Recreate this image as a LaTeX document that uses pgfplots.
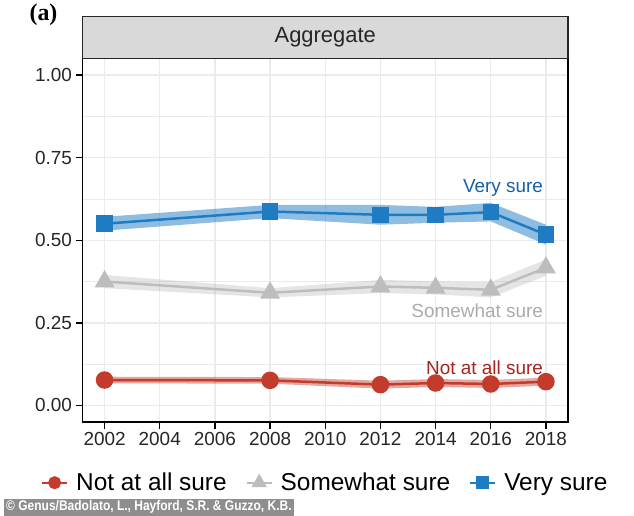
\documentclass[border=0pt]{standalone}
\usepackage{fontspec}
\setmainfont{Liberation Sans}
\newfontfamily\serifbold{Liberation Serif}
\usepackage{pgfplots}
\usepackage{pgfplotstable}
\pgfplotsset{compat=1.18}
\usepgfplotslibrary{fillbetween}
\definecolor{redc}{HTML}{C33B2C}
\definecolor{redl}{HTML}{A8231C}
\definecolor{bluec}{HTML}{1F7CC3}
\definecolor{bluel}{HTML}{1660A6}
\definecolor{grayc}{HTML}{BDBDBD}
\definecolor{grayl}{HTML}{ABABAB}
\definecolor{gridc}{HTML}{EBEBEB}
\definecolor{stripc}{HTML}{D9D9D9}
\definecolor{textc}{HTML}{262626}
\definecolor{copyc}{HTML}{8E8E8E}

\pgfplotstableread{
year not notlo nothi some somelo somehi very verylo veryhi
2002 0.077 0.067 0.087 0.375 0.355 0.395 0.550 0.529 0.571
2008 0.076 0.066 0.086 0.341 0.327 0.355 0.587 0.567 0.607
2012 0.063 0.051 0.075 0.360 0.340 0.380 0.577 0.547 0.607
2014 0.068 0.056 0.080 0.356 0.336 0.376 0.577 0.553 0.601
2016 0.065 0.053 0.077 0.350 0.327 0.373 0.585 0.557 0.613
2018 0.072 0.060 0.084 0.417 0.392 0.442 0.517 0.487 0.547
}\data

\begin{document}
\begin{tikzpicture}
\path (0,0) rectangle (634bp,516bp);
\begin{axis}[
  at={(82.5bp,94bp)}, anchor=south west,
  scale only axis, width=485.5bp, height=363.5bp,
  xmin=2001.2, xmax=2018.8, ymin=-0.05, ymax=1.05,
  xtick={2002,2004,...,2018},
  ytick={0,0.25,0.5,0.75,1},
  minor ytick={0.125,0.375,0.625,0.875},
  grid=both,
  major grid style={gridc, line width=1.4bp},
  minor grid style={gridc, line width=0.8bp},
  axis line style={black, line width=1.4bp},
  tick align=outside, major tick length=7bp, minor tick length=0pt,
  tick style={black, line width=1.4bp},
  xtick pos=lower, ytick pos=left,
  /pgf/number format/assume math mode=true,
  ticklabel style={font=\fontsize{19}{22}\selectfont, text=textc},
  xticklabel style={/pgf/number format/1000 sep={}},
  yticklabel style={/pgf/number format/.cd, fixed, fixed zerofill, precision=2},
  legend style={at={(0.5,-0.167)}, anchor=center, draw=none, fill=none,
    font=\fontsize{24.5}{28}\selectfont, legend columns=3,
    /tikz/every odd column/.append style={column sep=6bp},
    /tikz/every even column/.append style={column sep=17bp}},
  legend image code/.code={\draw[#1, mark repeat=2, mark phase=2] plot coordinates {(0bp,0bp) (12.5bp,0bp) (25bp,0bp)};},
]
% ribbons
\addplot[name path=nlo, draw=none, forget plot] table[x=year,y=notlo]{\data};
\addplot[name path=nhi, draw=none, forget plot] table[x=year,y=nothi]{\data};
\addplot[fill=redc, fill opacity=0.45, draw=none, forget plot] fill between[of=nhi and nlo];
\addplot[name path=slo, draw=none, forget plot] table[x=year,y=somelo]{\data};
\addplot[name path=shi, draw=none, forget plot] table[x=year,y=somehi]{\data};
\addplot[fill=grayc, fill opacity=0.4, draw=none, forget plot] fill between[of=shi and slo];
\addplot[name path=vlo, draw=none, forget plot] table[x=year,y=verylo]{\data};
\addplot[name path=vhi, draw=none, forget plot] table[x=year,y=veryhi]{\data};
\addplot[fill=bluec, fill opacity=0.5, draw=none, forget plot] fill between[of=vhi and vlo];
% lines
\addplot[color=redc, line width=2.5bp, mark=*, mark size=7.5bp,
  legend image post style={line width=2bp, mark size=5.5bp}] table[x=year,y=not]{\data};
\addlegendentry{Not at all sure}
\addplot[color=grayc, line width=2.5bp, mark=triangle*, mark size=9bp,
  legend image post style={line width=2bp, mark size=7bp}] table[x=year,y=some]{\data};
\addlegendentry{Somewhat sure}
\addplot[color=bluec, line width=2.5bp, mark=square*, mark size=7bp,
  legend image post style={line width=2bp, mark size=5.5bp}] table[x=year,y=very]{\data};
\addlegendentry{Very sure}
% direct labels
\node[anchor=east, inner sep=0pt, text=bluel, font=\fontsize{19}{22}\selectfont] at (axis cs:2017.9,0.657) {Very sure};
\node[anchor=east, inner sep=0pt, text=grayl, font=\fontsize{19}{22}\selectfont] at (axis cs:2017.9,0.287) {Somewhat sure};
\node[anchor=east, inner sep=0pt, text=redl, font=\fontsize{19}{22}\selectfont] at (axis cs:2017.9,0.115) {Not at all sure};
\end{axis}
% facet strip
\draw[fill=stripc, draw=black!85, line width=1.4bp] (82.5bp,457.7bp) rectangle (568bp,499.3bp);
\node[font=\fontsize{22}{26}\selectfont, text=textc] at (325.25bp,478.5bp) {Aggregate};
% panel tag
\node[font=\serifbold\bfseries\fontsize{24}{28}\selectfont] at (43.5bp,501bp) {(a)};
% credit
\node[fill=copyc, text=white, anchor=south west, inner xsep=2bp, inner ysep=0pt, minimum height=17bp,
  font=\bfseries\fontsize{14}{16}\selectfont] at (4bp,0bp) {\scalebox{0.86}[1]{© Genus/Badolato, L., Hayford, S.R. \& Guzzo, K.B.}};
\end{tikzpicture}
\end{document}
